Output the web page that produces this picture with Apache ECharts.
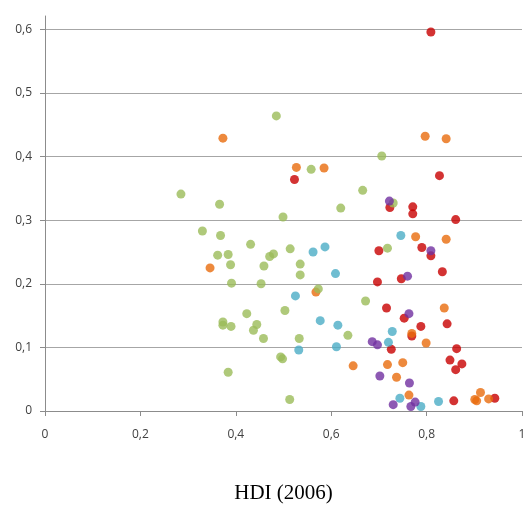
<!DOCTYPE html>
<html>
<head>
<meta charset="utf-8">
<script src="https://cdn.jsdelivr.net/npm/echarts@6/dist/echarts.min.js"></script>
<style>html,body{margin:0;padding:0;background:#fff;overflow:hidden}#c{width:523px;height:505px}</style>
</head>
<body>
<div id="c"></div>
<script>
// ---- data (x = HDI 2006, y = value) ----
var xTicks = [0, 0.2, 0.4, 0.6, 0.8, 1];
var yTicks = [0, 0.1, 0.2, 0.3, 0.4, 0.5, 0.6];
var xAxisTitle = 'HDI (2006)';

var greenX = [0.285,0.366,0.485,0.499,0.330,0.368,0.431,0.514,0.362,0.384,0.471,0.479,0.389,0.459,0.391,0.453,0.706,0.558,0.666,0.730,0.620,0.718,0.535,0.535,0.573,0.672,0.373,0.373,0.390,0.423,0.444,0.437,0.458,0.503,0.494,0.498,0.384,0.513,0.533,0.635];
var greenY = [0.341,0.325,0.464,0.305,0.283,0.276,0.262,0.255,0.245,0.246,0.243,0.247,0.230,0.228,0.201,0.200,0.401,0.380,0.347,0.327,0.319,0.256,0.231,0.214,0.192,0.173,0.140,0.135,0.133,0.153,0.136,0.127,0.114,0.158,0.085,0.082,0.061,0.018,0.114,0.119];

var orangeX = [0.373,0.527,0.585,0.797,0.841,0.346,0.568,0.777,0.841,0.837,0.769,0.799,0.646,0.718,0.750,0.737,0.763,0.913,0.901,0.905,0.930];
var orangeY = [0.429,0.383,0.382,0.432,0.428,0.225,0.187,0.274,0.270,0.162,0.122,0.107,0.071,0.073,0.076,0.053,0.025,0.029,0.018,0.016,0.019];

var tealX = [0.746,0.587,0.562,0.609,0.525,0.577,0.614,0.728,0.720,0.611,0.532,0.744,0.788,0.825];
var tealY = [0.276,0.258,0.250,0.216,0.181,0.142,0.135,0.125,0.108,0.101,0.096,0.020,0.007,0.015];

var redX = [0.809,0.523,0.827,0.723,0.771,0.771,0.861,0.700,0.790,0.809,0.833,0.747,0.697,0.716,0.753,0.788,0.843,0.726,0.863,0.849,0.874,0.861,0.857,0.943,0.769];
var redY = [0.596,0.364,0.370,0.320,0.321,0.310,0.301,0.252,0.257,0.244,0.219,0.208,0.203,0.162,0.146,0.133,0.137,0.097,0.098,0.080,0.074,0.065,0.016,0.020,0.118];

var purpleX = [0.722,0.809,0.760,0.763,0.686,0.697,0.702,0.764,0.730,0.767,0.776];
var purpleY = [0.330,0.252,0.212,0.153,0.109,0.104,0.055,0.044,0.010,0.007,0.014];

function pairs(xs, ys) { return xs.map(function (x, i) { return [x, ys[i]]; }); }
function comma(v) { return String(Math.round(v * 10) / 10).replace('.', ','); }

var labelStyle = { color: '#404040', fontFamily: 'Open Sans', fontSize: 12 };
var axisGray = '#8c8c8c';

var chart = echarts.init(document.getElementById('c'), null, { renderer: 'canvas' });
chart.setOption({
  animation: false,
  backgroundColor: '#ffffff',
  grid: [
    { left: 45, right: 1, top: 29.4, bottom: 94, containLabel: false, outerBoundsMode: 'none' },
    { left: 45, right: 1, top: 16, bottom: 94, containLabel: false, outerBoundsMode: 'none' }
  ],
  xAxis: [{
    gridIndex: 0, type: 'value', min: xTicks[0], max: xTicks[xTicks.length - 1], interval: 0.2,
    axisLine: { show: true, lineStyle: { color: axisGray, width: 1 } },
    axisTick: { show: true, length: 5, lineStyle: { color: axisGray } },
    splitLine: { show: false },
    axisLabel: Object.assign({ margin: 18, formatter: comma, hideOverlap: false }, labelStyle),
    name: xAxisTitle, nameLocation: 'middle', nameGap: 72,
    nameTextStyle: { fontFamily: 'Liberation Serif', fontSize: 21, color: '#000000' }
  }, {
    gridIndex: 1, type: 'value', show: false, min: 0, max: 1
  }],
  yAxis: [{
    gridIndex: 0, type: 'value', min: yTicks[0], max: yTicks[yTicks.length - 1], interval: 0.1,
    axisLine: { show: false },
    axisTick: { show: true, length: 5, lineStyle: { color: axisGray } },
    splitLine: { show: true, lineStyle: { color: '#a6a6a6', width: 1 } },
    axisLabel: Object.assign({ margin: 13, formatter: comma }, labelStyle)
  }, {
    gridIndex: 1, type: 'value', min: 0, max: 1,
    axisLine: { show: true, lineStyle: { color: axisGray, width: 1 } },
    axisTick: { show: false }, axisLabel: { show: false }, splitLine: { show: false }
  }],
  series: [
    { type: 'scatter', name: 'red', data: pairs(redX, redY), symbolSize: 9, itemStyle: { color: '#c80000' }, z: 2 },
    { type: 'scatter', name: 'orange', data: pairs(orangeX, orangeY), symbolSize: 9, itemStyle: { color: '#e86c0c' }, z: 3 },
    { type: 'scatter', name: 'green', data: pairs(greenX, greenY), symbolSize: 9, itemStyle: { color: '#9bbb59' }, z: 4 },
    { type: 'scatter', name: 'teal', data: pairs(tealX, tealY), symbolSize: 9, itemStyle: { color: '#4bacc6' }, z: 5 },
    { type: 'scatter', name: 'purple', data: pairs(purpleX, purpleY), symbolSize: 9, itemStyle: { color: '#7030a0' }, z: 6 }
  ]
});
</script>
</body>
</html>
